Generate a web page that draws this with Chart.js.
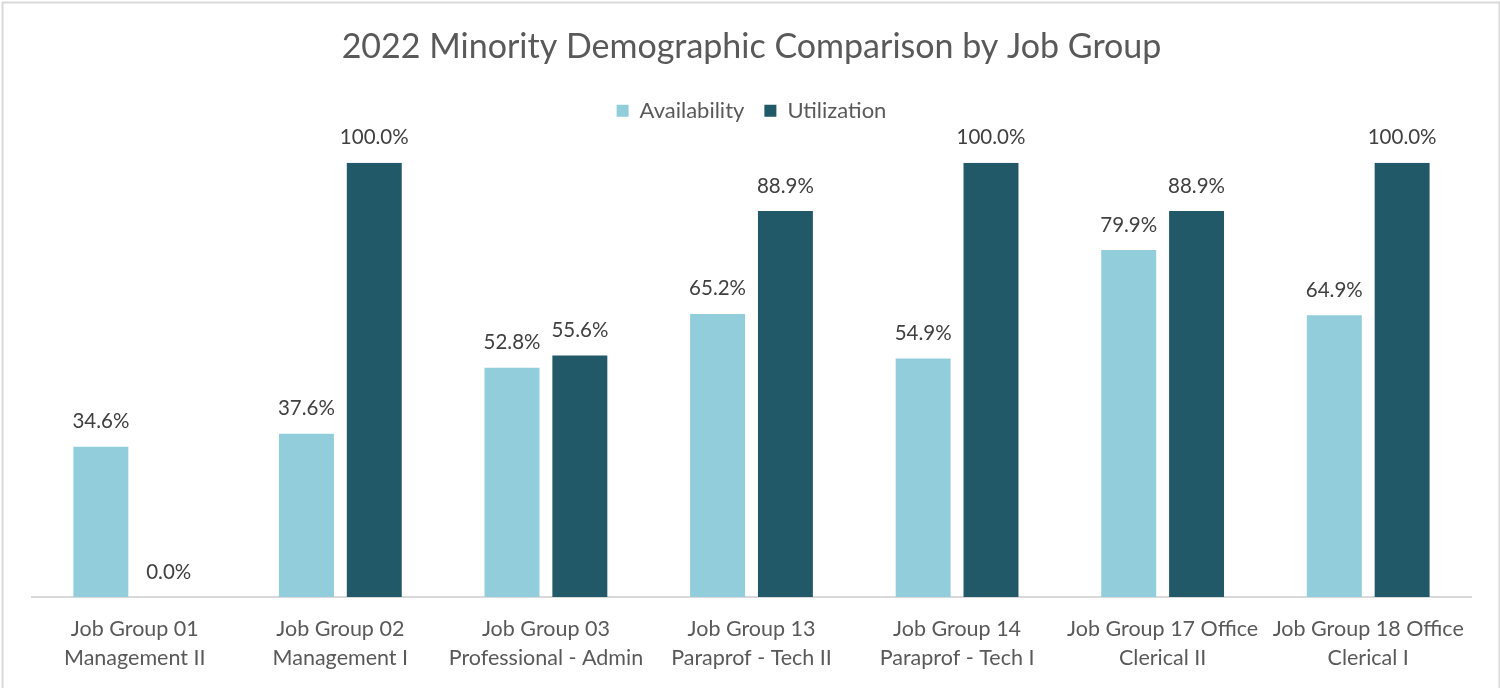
<!DOCTYPE html>
<html>
<head>
<meta charset="utf-8">
<script src="https://cdn.jsdelivr.net/npm/chart.js@4"></script>
<style>
  html, body { margin: 0; padding: 0; background: #fff; }
  #wrap { width: 1500px; height: 688px; position: relative; }
</style>
</head>
<body>
<div id="wrap"><canvas id="grafico"></canvas></div>
<script>
// Job groups (two-line tick labels)
const jobGroups = [
  ['Job Group 01', 'Management II'],
  ['Job Group 02', 'Management I'],
  ['Job Group 03', 'Professional - Admin'],
  ['Job Group 13', 'Paraprof - Tech II'],
  ['Job Group 14', 'Paraprof - Tech I'],
  ['Job Group 17 Office', 'Clerical II'],
  ['Job Group 18 Office', 'Clerical I']
];

// Percent values per series
const availability = [34.6, 37.6, 52.8, 65.2, 54.9, 79.9, 64.9];
const utilization = [0.0, 100.0, 55.6, 88.9, 100.0, 88.9, 100.0];

const fonte = 'Lato, "Open Sans", sans-serif';

// Value labels drawn above each bar
const rotulosBarras = {
  id: 'rotulosBarras',
  afterDatasetsDraw(chart) {
    const ctx = chart.ctx;
    ctx.save();
    ctx.font = '20.5px ' + fonte;
    ctx.fillStyle = '#404040';
    ctx.textAlign = 'center';
    ctx.textBaseline = 'middle';
    chart.data.datasets.forEach((ds, i) => {
      chart.getDatasetMeta(i).data.forEach((bar, j) => {
        ctx.fillText(ds.data[j].toFixed(1) + '%', bar.x, bar.y - 25);
      });
    });
    ctx.restore();
  }
};

// Extra space between legend and plot
const espacoLegenda = {
  id: 'espacoLegenda',
  beforeInit(chart) {
    const fitOriginal = chart.legend.fit;
    chart.legend.fit = function () {
      fitOriginal.bind(chart.legend)();
      this.height += 31;
    };
  }
};

// Light gray frame around the chart
const moldura = {
  id: 'moldura',
  afterDraw(chart) {
    const ctx = chart.ctx;
    ctx.save();
    ctx.strokeStyle = '#D9D9D9';
    ctx.lineWidth = 2;
    ctx.strokeRect(2.5, 2.5, chart.width - 3, chart.height + 10);
    ctx.restore();
  }
};

const ctxBarras = document.getElementById('grafico').getContext('2d');
const myChartBarras = new Chart(ctxBarras, {
  type: 'bar',
  data: {
    labels: jobGroups,
    datasets: [
      {
        label: 'Availability',
        data: availability,
        backgroundColor: '#92CDDC'
      },
      {
        label: 'Utilization',
        data: utilization,
        backgroundColor: '#215968'
      }
    ]
  },
  options: {
    responsive: true,
    maintainAspectRatio: false,
    animation: false,
    layout: {
      padding: { left: 32, right: 29, top: 0, bottom: 5 }
    },
    datasets: {
      bar: {
        categoryPercentage: 0.66,
        barPercentage: 0.81
      }
    },
    scales: {
      x: {
        grid: { display: false },
        border: { display: true, color: '#D9D9D9', width: 2 },
        ticks: {
          color: '#595959',
          padding: 10,
          font: { family: fonte, size: 21.5, lineHeight: 1.35 },
          maxRotation: 0,
          autoSkip: false
        }
      },
      y: {
        display: false,
        min: 0,
        max: 100
      }
    },
    plugins: {
      title: {
        display: true,
        text: '2022 Minority Demographic Comparison by Job Group',
        color: '#595959',
        font: { family: fonte, size: 34, weight: 'normal' },
        padding: { top: 27, bottom: 12 }
      },
      legend: {
        display: true,
        position: 'top',
        labels: {
          color: '#595959',
          boxWidth: 12,
          boxHeight: 12,
          padding: 20,
          font: { family: fonte, size: 22 }
        }
      },
      tooltip: { enabled: false }
    }
  },
  plugins: [rotulosBarras, espacoLegenda, moldura]
});
</script>
</body>
</html>
